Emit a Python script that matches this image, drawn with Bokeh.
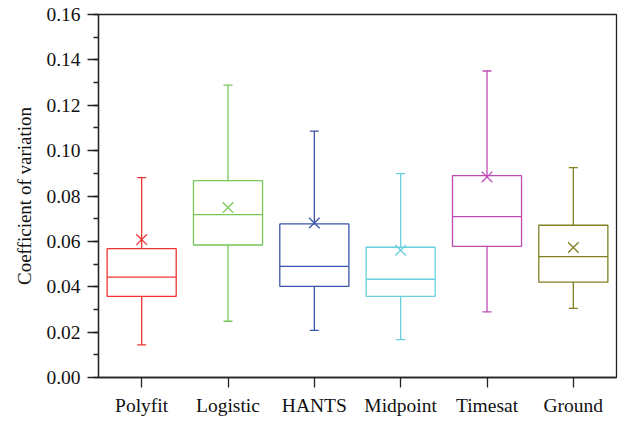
from bokeh.plotting import figure
from bokeh.models import ColumnDataSource, FixedTicker, NumeralTickFormatter, Range1d, FactorRange
from bokeh.transform import dodge
from bokeh.embed import file_html
from bokeh.resources import INLINE

categories = ["Polyfit", "Logistic", "HANTS", "Midpoint", "Timesat", "Ground"]
whisker_low = [0.0144, 0.0248, 0.0208, 0.0167, 0.0289, 0.0305]
q1 = [0.0358, 0.0584, 0.0402, 0.0358, 0.0578, 0.0420]
median = [0.0442, 0.0718, 0.0490, 0.0433, 0.0709, 0.0533]
q3 = [0.0568, 0.0868, 0.0677, 0.0574, 0.0890, 0.0671]
whisker_high = [0.0881, 0.1289, 0.1086, 0.0899, 0.1351, 0.0925]
mean = [0.0608, 0.0749, 0.0681, 0.0561, 0.0884, 0.0573]
colors = ["#ee3333", "#78c858", "#3a55aa", "#68d0dc", "#c04ab4", "#808020"]
y_ticks = [0.00, 0.02, 0.04, 0.06, 0.08, 0.10, 0.12, 0.14, 0.16]
y_minor = [i / 100 for i in range(0, 17)]

src = ColumnDataSource(dict(cat=categories, lo=whisker_low, q1=q1, med=median,
                            q3=q3, hi=whisker_high, mean=mean, color=colors))

FONT = "'Liberation Serif', serif"
p = figure(width=618, height=421, x_range=FactorRange(*categories), y_range=Range1d(0, 0.16),
           output_backend="svg", toolbar_location=None,
           min_border_left=98, min_border_right=2, min_border_top=14, min_border_bottom=44)
p.xgrid.visible = False
p.ygrid.visible = False
p.outline_line_color = "#222222"
p.outline_line_width = 1.3
p.x_range.range_padding = 0

lw = 1.3
p.vbar(x="cat", bottom="q1", top="q3", width=0.8, source=src, fill_alpha=0,
       line_color="color", line_width=lw)
p.segment(x0=dodge("cat", -0.4, range=p.x_range), x1=dodge("cat", 0.4, range=p.x_range),
          y0="med", y1="med", source=src, line_color="color", line_width=lw)
p.segment(x0="cat", x1="cat", y0="q3", y1="hi", source=src, line_color="color", line_width=lw)
p.segment(x0="cat", x1="cat", y0="lo", y1="q1", source=src, line_color="color", line_width=lw)
p.scatter(x="cat", y="hi", marker="dash", size=9, source=src, line_color="color", line_width=lw)
p.scatter(x="cat", y="lo", marker="dash", size=9, source=src, line_color="color", line_width=lw)
p.scatter(x="cat", y="mean", marker="x", size=15, source=src, line_color="color", line_width=lw)

ya = p.yaxis[0]
ya.ticker = FixedTicker(ticks=y_ticks, minor_ticks=y_minor)
ya.formatter = NumeralTickFormatter(format="0.00")
ya.major_tick_out = 11
ya.major_tick_in = 0
ya.minor_tick_out = 5
ya.minor_tick_in = 0
ya.axis_label = "Coefficient of variation"
ya.axis_label_text_font = FONT
ya.axis_label_text_font_style = "normal"
ya.axis_label_text_font_size = "19px"
ya.axis_label_standoff = 8
ya.major_label_text_font = FONT
ya.major_label_text_font_size = "19.5px"
ya.major_label_standoff = 7

xa = p.xaxis[0]
xa.major_tick_out = 10
xa.major_tick_in = 0
xa.minor_tick_out = 0
xa.major_label_text_font = FONT
xa.major_label_text_font_size = "19.5px"
xa.major_label_standoff = 7

for ax in (xa, ya):
    ax.axis_line_color = "#222222"
    ax.axis_line_width = 1.3
    ax.major_tick_line_color = "#222222"
    ax.major_tick_line_width = 1.3
    ax.minor_tick_line_color = "#222222"
    ax.minor_tick_line_width = 1.3
    ax.major_label_text_color = "#111111"
    ax.axis_label_text_color = "#111111"

open("out.html", "w").write(file_html(p, INLINE))
